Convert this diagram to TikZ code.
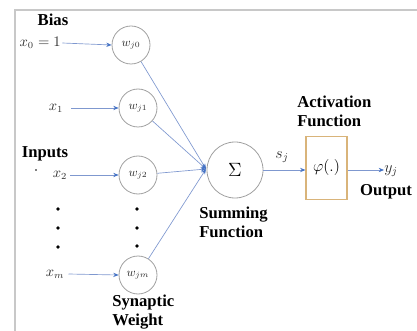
\documentclass[tikz,border=0pt]{standalone}
\usepackage{fontspec}
\setmainfont{Liberation Serif}
\newfontfamily\capfont{Liberation Serif Bold}
\usetikzlibrary{arrows.meta}
\definecolor{framegray}{HTML}{C8C8C8}
\definecolor{circgray}{HTML}{A0A0A0}
\definecolor{linkblue}{HTML}{7F98CF}
\definecolor{tipblue}{HTML}{4472C4}
\definecolor{mathgray}{HTML}{303030}
\definecolor{boxtan}{HTML}{D9B47A}
\tikzset{
  frameline/.style={draw=framegray, line width=1.5pt},
  weight/.style={circle, draw=circgray, line width=0.6pt, minimum size=28.5pt, inner sep=0pt,
    text=mathgray, font=\fontsize{9}{10}\selectfont},
  summer/.style={circle, draw=circgray, line width=0.6pt, minimum size=42pt, inner sep=0pt,
    text=black, font=\fontsize{13.5}{14}\selectfont},
  actbox/.style={rectangle, draw=boxtan, line width=0.8pt, minimum width=30.75pt,
    minimum height=47.25pt, inner sep=0pt, text=black, font=\fontsize{12.5}{13}\selectfont},
  mathlbl/.style={inner sep=0pt, text=mathgray, font=\fontsize{10.5}{11}\selectfont},
  caption/.style={inner sep=0pt, align=left, font=\capfont\fontsize{12.5}{14.5}\selectfont},
  link/.style={draw=linkblue, line width=0.5pt,
    -{Stealth[length=4pt, width=3.2pt, color=tipblue, fill=tipblue]}},
  bigdot/.style={circle, fill=black, inner sep=0pt, minimum size=2.8pt}
}
\begin{document}
\begin{tikzpicture}[x=0.75pt, y=-0.75pt]
\useasboundingbox (0,0) rectangle (417,331);
% frame edges
\draw[frameline] (417,10) -- (15,10) -- (15,331);

% captions
\node[caption] (bias) at (53,20) {Bias};
\node[caption] (inputs) at (45,154) {Inputs};
\node[caption, anchor=west] (synw) at (112,312) {Synaptic\\Weight};
\node[caption, anchor=west] (sumf) at (199,222) {Summing\\Function};
\node[caption, anchor=west] (actf) at (297,111) {Activation\\Function};
\node[caption] (outp) at (386,192) {Output};

% input signals
\node[mathlbl, anchor=east] (x0) at (61,43) {$x_0 = 1$};
\node[mathlbl] (x1) at (56,108) {$x_1$};
\node[mathlbl] (x2) at (60,175) {$x_2$};
\node[mathlbl] (xm) at (55,274) {$x_m$};
\node[circle, fill=black, inner sep=0pt, minimum size=1.3pt] (stray) at (36,170) {};

% synaptic weights
\node[weight] (w0) at (131,45) {$w_{j0}$};
\node[weight] (w1) at (138,108) {$w_{j1}$};
\node[weight] (w2) at (138,175) {$w_{j2}$};
\node[weight] (wm) at (138,275) {$w_{jm}$};

% ellipsis dots
\node[bigdot] (d1) at (58,209) {};
\node[bigdot] (d2) at (58,228) {};
\node[bigdot] (d3) at (58,247) {};
\node[bigdot] (e1) at (137,209) {};
\node[bigdot] (e2) at (137,228) {};
\node[bigdot] (e3) at (137,246) {};

% summing junction and activation
\coordinate (join) at (206,169);
\node[summer] (sum) at (235,170) {$\Sigma$};
\node[actbox] (act) at (326.5,168) {$\varphi(.)$};
\node[mathlbl, font=\fontsize{11.5}{12}\selectfont] (sj) at (282,157) {$s_j$};
\node[mathlbl, font=\fontsize{11.5}{12}\selectfont, anchor=west] (yj) at (384,171) {$y_j$};

% connectors
\draw[link] ([xshift=1pt]x0.east) -- (w0.west);
\draw[link] ([xshift=6pt]x1.east) -- (w1.west);
\draw[link] ([xshift=2pt]x2.east) -- (w2.west);
\draw[link] ([xshift=3pt]xm.east) -- (wm.west);
\draw[link] (w0) -- (join);
\draw[link] (w1) -- (join);
\draw[link] (w2) -- (join);
\draw[link] (wm) -- (join);
\draw[link] (sum.east) -- (act.west |- sum.east);
\draw[link] (act.east |- sum.east) -- (yj.west |- sum.east);
\end{tikzpicture}
\end{document}
